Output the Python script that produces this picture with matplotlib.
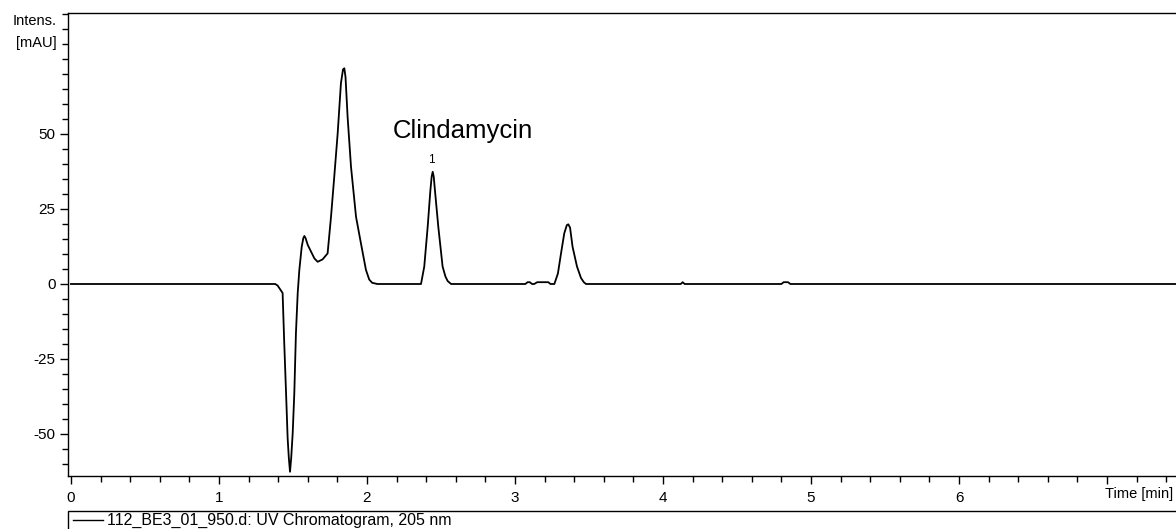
import numpy as np
import matplotlib.pyplot as plt
from matplotlib.ticker import MultipleLocator
from matplotlib.patches import Rectangle
from matplotlib.lines import Line2D

plt.rcParams['font.family'] = ['Liberation Sans', 'DejaVu Sans']

# UV chromatogram trace
time_min = [0.0, 1.38, 1.396, 1.43, 1.441, 1.453, 1.464, 1.472, 1.480, 1.488,
            1.498, 1.509, 1.520, 1.532, 1.543, 1.559, 1.570, 1.577, 1.585, 1.60,
            1.622, 1.645, 1.667, 1.70, 1.734, 1.757, 1.779, 1.802, 1.824, 1.838,
            1.847, 1.855, 1.869, 1.892, 1.926, 1.959, 1.993, 2.015, 2.035, 2.07,
            2.365, 2.387, 2.410, 2.428, 2.437, 2.444, 2.451, 2.459, 2.482, 2.511,
            2.530, 2.545, 2.568, 3.07, 3.085, 3.10, 3.115, 3.13, 3.15, 3.165,
            3.20, 3.225, 3.24, 3.266, 3.29, 3.311, 3.333, 3.350, 3.360, 3.372,
            3.389, 3.419, 3.446, 3.465, 3.48, 4.12, 4.133, 4.146, 4.80, 4.815,
            4.845, 4.86, 7.47]
intensity = [0.0, 0.0, -0.5, -3.0, -19.7, -36.0, -51.4, -58.0, -62.6, -58.0,
             -49.8, -36.4, -16.4, -3.0, 4.7, 12.4, 15.3, 16.0, 15.3, 13.0,
             10.8, 8.5, 7.4, 8.2, 10.2, 22.4, 35.8, 50.2, 66.9, 71.5,
             71.9, 69.0, 55.8, 39.1, 22.4, 13.6, 4.7, 1.5, 0.4, 0.0,
             0.0, 5.8, 19.0, 31.0, 35.8, 37.4, 35.8, 31.3, 19.0, 5.8,
             2.5, 1.0, 0.0, 0.0, 0.6, 0.6, 0.0, 0.0, 0.6, 0.6,
             0.6, 0.6, 0.0, 0.0, 3.5, 10.2, 16.9, 19.6, 19.9, 18.8,
             12.4, 5.8, 2.0, 0.6, 0.0, 0.0, 0.6, 0.0, 0.0, 0.6,
             0.6, 0.0, 0.0]

peak_label = 'Clindamycin'
peak_no = '1'
peak_time = 2.444
peak_height = 37.4
legend_text = '112_BE3_01_950.d: UV Chromatogram, 205 nm'

fig = plt.figure(figsize=(11.76, 5.29), dpi=100)
ax = fig.add_axes([68/1176, 1 - 476/529, (1176 - 68)/1176, (476 - 13)/529])

ax.plot(time_min, intensity, color='black', lw=1.3)

ax.set_xlim(-0.02, 7.466)
ax.set_ylim(-64.0, 90.33)

ax.xaxis.set_major_locator(MultipleLocator(1))
ax.xaxis.set_minor_locator(MultipleLocator(0.2))
ax.yaxis.set_major_locator(MultipleLocator(25))
ax.yaxis.set_minor_locator(MultipleLocator(5))
ax.set_xticks(range(0, 8))
ax.set_xticklabels([str(i) for i in range(0, 7)] + [''])
ax.set_yticks([-50, -25, 0, 25, 50])
ax.set_yticklabels(['-50', '-25', '0', '25', '50'])

ax.tick_params(which='major', length=6, width=1, labelsize=11, color='black')
ax.tick_params(which='minor', length=4, width=1, color='black')
ax.tick_params(axis='x', pad=5)
ax.tick_params(axis='y', pad=3)

ax.spines['right'].set_visible(False)
for s in ['left', 'bottom', 'top']:
    ax.spines[s].set_linewidth(1.0)

ax.text(2.175, 51, peak_label, fontsize=18.5, va='center', ha='left')
ax.annotate(peak_no, (peak_time, peak_height), xytext=(-1, 4),
            textcoords='offset points', ha='center', va='bottom', fontsize=8.5)

fig.text(57/1176, 1 - 21/529, 'Intens.', ha='right', va='center', fontsize=10.5)
fig.text(57/1176, 1 - 43/529, '[mAU]', ha='right', va='center', fontsize=10.5)
fig.text(1173/1176, 1 - 494/529, 'Time [min]', ha='right', va='center', fontsize=10.5)

# legend strip below the axes
fig.patches.append(Rectangle((68/1176, -0.05), 1.0, 1 - 511/529 + 0.05,
                             transform=fig.transFigure, fill=False,
                             edgecolor='black', lw=1.0))
fig.lines.append(Line2D([73/1176, 103/1176], [1 - 520/529, 1 - 520/529],
                        transform=fig.transFigure, color='black', lw=1.0))
fig.text(107/1176, 1 - 520/529, legend_text, ha='left', va='center', fontsize=11.5)

plt.savefig('out.png', dpi=100)
